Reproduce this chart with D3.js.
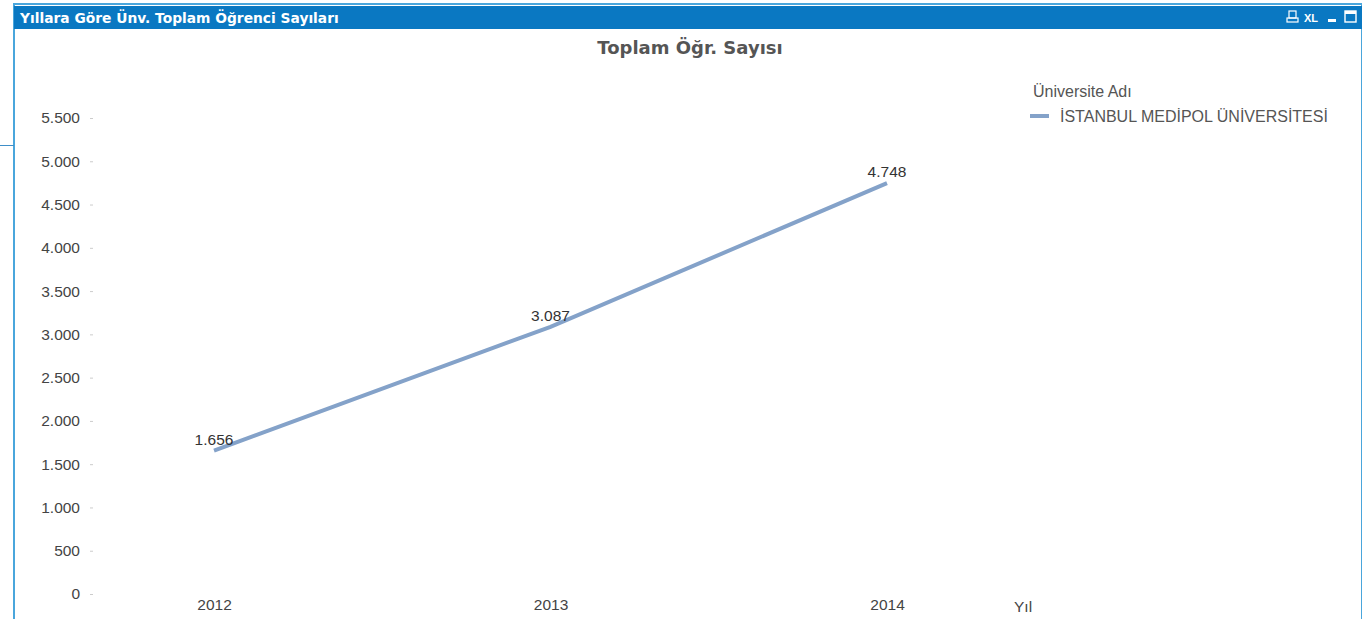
<!DOCTYPE html>
<html lang="en">
  <head>
    <meta charset="utf-8">
    <title>Toplam Ogr. Sayisi</title>
    <script src="https://d3js.org/d3.v7.min.js"></script>
    <style>
      body { margin: 0; background: #fff; overflow: hidden; }
    </style>
  </head>
  <body>
  <script>

  // data
  var years = ["2012", "2013", "2014"];
  var students = [1656, 3087, 4748];
  var yTicks = [0, 500, 1000, 1500, 2000, 2500, 3000, 3500, 4000, 4500, 5000, 5500];
  var seriesName = "İSTANBUL MEDİPOL ÜNİVERSİTESİ";

  var w = 1362;
  var h = 619;
  var fmt = d => d3.format(",")(d).replace(/,/g, ".");

  var svg = d3.select("body")
    .append("svg")
      .attr("width", w)
      .attr("height", h)
      .style("font-family", "'Liberation Sans', Arial, sans-serif");

  // window frame
  svg.append("rect")
      .attr("x", 14).attr("y", 4)
      .attr("width", w - 14).attr("height", h)
      .attr("fill", "#fff")
      .attr("stroke", "#4aa6dc")
      .attr("stroke-width", 2);

  svg.append("rect")
      .attr("x", 14).attr("y", 6)
      .attr("width", w - 14).attr("height", 23)
      .attr("fill", "#0a78c2");

  svg.append("line")
      .attr("x1", 0).attr("x2", 14)
      .attr("y1", 145.5).attr("y2", 145.5)
      .attr("stroke", "#3f8fc8");

  svg.append("text")
      .attr("x", 20).attr("y", 23)
      .attr("fill", "#fff")
      .style("font-family", "'DejaVu Sans', Verdana, sans-serif")
      .style("font-size", "13.8px")
      .style("font-weight", "bold")
      .text("Yıllara Göre Ünv. Toplam Öğrenci Sayıları");

  // caption icons
  var icons = svg.append("g").attr("fill", "#fff");
  icons.append("rect").attr("x", 1289).attr("y", 11).attr("width", 7).attr("height", 7)
      .attr("fill", "none").attr("stroke", "#fff").attr("stroke-width", 1.2);
  icons.append("rect").attr("x", 1287).attr("y", 18).attr("width", 11).attr("height", 4)
      .attr("fill", "none").attr("stroke", "#fff").attr("stroke-width", 1.2);
  icons.append("text").attr("x", 1304).attr("y", 22)
      .style("font-size", "11px").style("font-weight", "bold").text("XL");
  icons.append("rect").attr("x", 1328).attr("y", 19).attr("width", 8).attr("height", 3);
  icons.append("rect").attr("x", 1345).attr("y", 11).attr("width", 11).attr("height", 11)
      .attr("fill", "none").attr("stroke", "#fff").attr("stroke-width", 1.4);
  icons.append("rect").attr("x", 1345).attr("y", 11).attr("width", 11).attr("height", 3);

  // chart title
  svg.append("text")
      .attr("x", 690).attr("y", 54)
      .attr("text-anchor", "middle")
      .attr("fill", "#555")
      .style("font-family", "'DejaVu Sans', Verdana, sans-serif")
      .style("font-size", "18px")
      .style("font-weight", "bold")
      .text("Toplam Öğr. Sayısı");

  var xScale = d3.scalePoint()
      .domain(years)
      .range([214, 887]);

  var yScale = d3.scaleLinear()
      .domain([0, 5500])
      .range([594, 118]);

  var yAxis = d3.axisLeft(yScale)
      .tickValues(yTicks)
      .tickSize(3)
      .tickPadding(10)
      .tickFormat(fmt);

  var gy = svg.append("g")
      .attr("transform", "translate(93,0)")
      .call(yAxis);
  gy.select(".domain").remove();
  gy.selectAll(".tick line").attr("stroke", "#ccc");
  gy.selectAll(".tick text")
      .attr("fill", "#444")
      .style("font-size", "15.5px")
      .style("font-family", "'Liberation Sans', Arial, sans-serif");

  var xAxis = d3.axisBottom(xScale)
      .tickSize(0)
      .tickPadding(0);

  var gx = svg.append("g")
      .attr("transform", "translate(0,599)")
      .call(xAxis);
  gx.select(".domain").remove();
  gx.selectAll(".tick text")
      .attr("fill", "#444")
      .style("font-size", "15.5px")
      .style("font-family", "'Liberation Sans', Arial, sans-serif");

  svg.append("text")
      .attr("x", 1014).attr("y", 612)
      .attr("fill", "#444")
      .style("font-size", "15.5px")
      .text("Yıl");

  // line
  var line = d3.line()
      .x((d, i) => xScale(years[i]))
      .y(d => yScale(d));

  svg.append("path")
      .datum(students)
      .attr("d", line)
      .attr("fill", "none")
      .attr("stroke", "#84a2c9")
      .attr("stroke-width", 4);

  svg.selectAll(".vlabel")
      .data(students)
    .enter().append("text")
      .attr("class", "vlabel")
      .attr("x", (d, i) => xScale(years[i]))
      .attr("y", d => yScale(d) - 6)
      .attr("text-anchor", "middle")
      .attr("fill", "#333")
      .style("font-size", "15.5px")
      .text(fmt);

  // legend
  svg.append("text")
      .attr("x", 1033).attr("y", 97)
      .attr("fill", "#555")
      .style("font-size", "16px")
      .text("Üniversite Adı");

  svg.append("line")
      .attr("x1", 1030).attr("x2", 1049)
      .attr("y1", 116).attr("y2", 116)
      .attr("stroke", "#84a2c9")
      .attr("stroke-width", 4);

  svg.append("text")
      .attr("x", 1060).attr("y", 122)
      .attr("fill", "#555")
      .style("font-size", "16px")
      .text(seriesName);

  </script>
  </body>
</html>
